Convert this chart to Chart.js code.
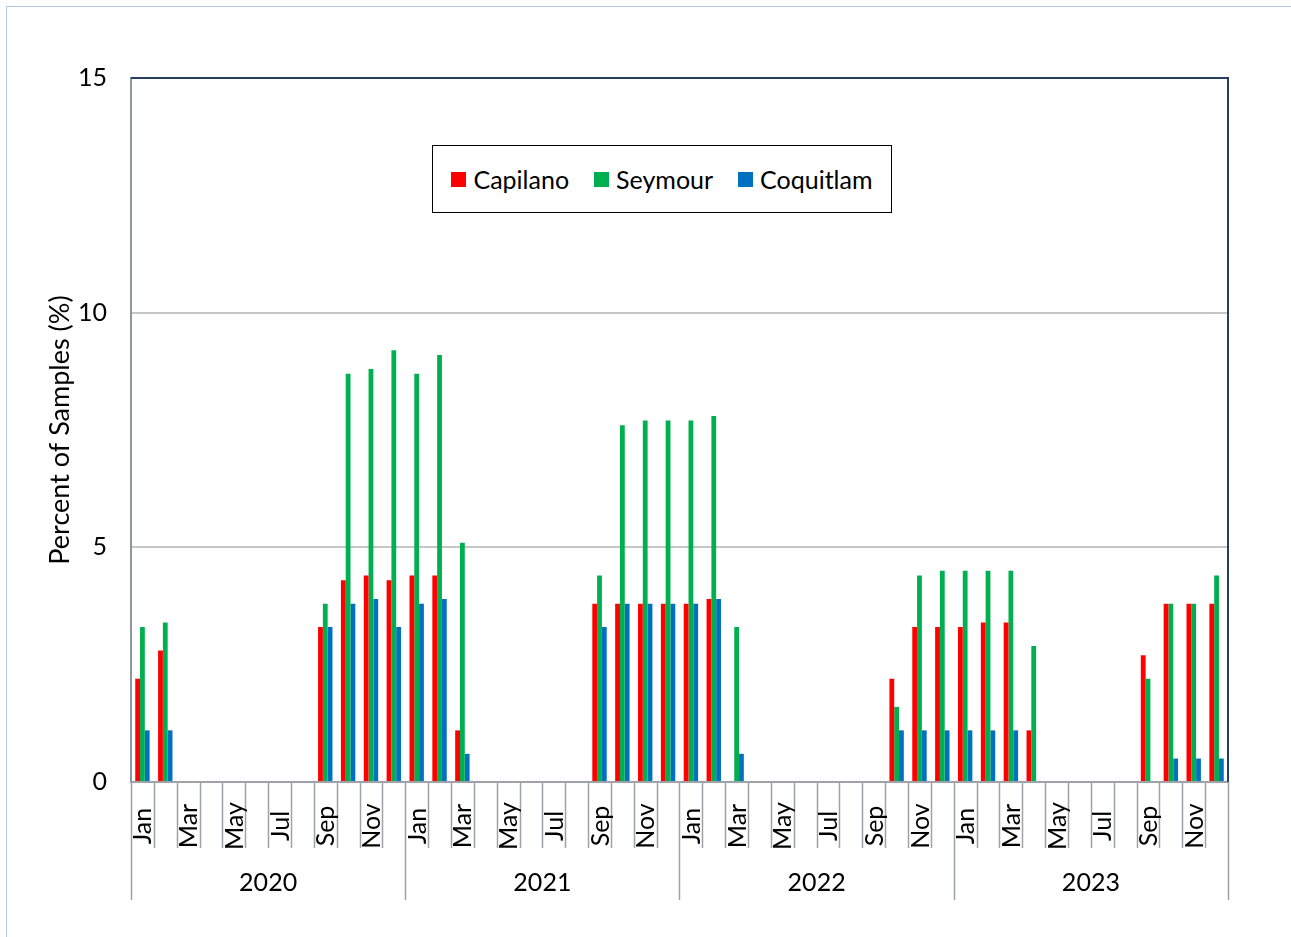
<!DOCTYPE html>
<html>
<head>
<meta charset="utf-8">
<title>Percent of Samples</title>
<script src="https://cdn.jsdelivr.net/npm/chart.js"></script>
<style>
    html, body {
        margin: 0;
        height: 100%;
        overflow: hidden;
        background: #fff;
    }
    #frame {
        position: absolute;
        left: 6px;
        top: 6px;
        width: 1400px;
        height: 1000px;
        border: 1px solid #b4c6e7;
    }
    #wrap {
        position: absolute;
        left: 0;
        top: 0;
        width: 1291px;
        height: 937px;
    }
    #legend {
        position: absolute;
        left: 432px;
        top: 145px;
        width: 458px;
        height: 66px;
        border: 1.5px solid #000;
        background: #fff;
        display: flex;
        align-items: center;
        justify-content: center;
        gap: 25px;
        font-family: Lato, sans-serif;
        font-size: 25px;
        color: #000;
    }
    #legend .item {
        display: flex;
        align-items: center;
        gap: 7px;
    }
    #legend .box {
        width: 15px;
        height: 15px;
    }
</style>
</head>
<body>
<div id="frame"></div>
<div id="wrap">
    <canvas id="myChart"></canvas>
    <div id="legend"></div>
</div>
<script>
    // categories
    const years = ['2020', '2021', '2022', '2023'];
    const months = ['Jan', 'Feb', 'Mar', 'Apr', 'May', 'Jun', 'Jul', 'Aug', 'Sep', 'Oct', 'Nov', 'Dec'];

    // series, Jan 2020 .. Dec 2023
    const capilano = [
        2.2, 2.8, 0, 0, 0, 0, 0, 0, 3.3, 4.3, 4.4, 4.3,
        4.4, 4.4, 1.1, 0, 0, 0, 0, 0, 3.8, 3.8, 3.8, 3.8,
        3.8, 3.9, 0, 0, 0, 0, 0, 0, 0, 2.2, 3.3, 3.3,
        3.3, 3.4, 3.4, 1.1, 0, 0, 0, 0, 2.7, 3.8, 3.8, 3.8
    ];
    const seymour = [
        3.3, 3.4, 0, 0, 0, 0, 0, 0, 3.8, 8.7, 8.8, 9.2,
        8.7, 9.1, 5.1, 0, 0, 0, 0, 0, 4.4, 7.6, 7.7, 7.7,
        7.7, 7.8, 3.3, 0, 0, 0, 0, 0, 0, 1.6, 4.4, 4.5,
        4.5, 4.5, 4.5, 2.9, 0, 0, 0, 0, 2.2, 3.8, 3.8, 4.4
    ];
    const coquitlam = [
        1.1, 1.1, 0, 0, 0, 0, 0, 0, 3.3, 3.8, 3.9, 3.3,
        3.8, 3.9, 0.6, 0, 0, 0, 0, 0, 3.3, 3.8, 3.8, 3.8,
        3.8, 3.9, 0.6, 0, 0, 0, 0, 0, 0, 1.1, 1.1, 1.1,
        1.1, 1.1, 1.1, 0, 0, 0, 0, 0, 0, 0.5, 0.5, 0.5
    ];
    const seriesNames = ['Capilano', 'Seymour', 'Coquitlam'];
    const seriesColors = ['#ff0000', '#00b050', '#0070c0'];

    const yMin = 0;
    const yMax = 15;
    const yStep = 5;

    const labels = [];
    years.forEach(function (y) {
        months.forEach(function (m) { labels.push(m); });
    });

    const FONT = 'Lato';
    const axisGray = '#9ea3aa';

    // legend as html
    const legendEl = document.getElementById('legend');
    seriesNames.forEach(function (name, i) {
        const item = document.createElement('div');
        item.className = 'item';
        const box = document.createElement('span');
        box.className = 'box';
        box.style.background = seriesColors[i];
        const txt = document.createElement('span');
        txt.textContent = name;
        item.appendChild(box);
        item.appendChild(txt);
        legendEl.appendChild(item);
    });

    // navy top/right edges + the two-level month / year axis under the plot
    const plotFrame = {
        id: 'plotFrame',
        afterDraw(chart) {
            const ctx = chart.ctx;
            const a = chart.chartArea;
            const xs = chart.scales.x;
            const half = (xs.getPixelForValue(1) - xs.getPixelForValue(0)) / 2;
            ctx.save();

            // separators: month ticks, longer at year boundaries
            ctx.strokeStyle = axisGray;
            ctx.lineWidth = 1.5;
            for (let i = 0; i <= labels.length; i++) {
                const px = Math.round(xs.getPixelForValue(i) - half) + 0.5;
                const len = (i % 12 === 0) ? 118 : 66;
                ctx.beginPath();
                ctx.moveTo(px, a.bottom);
                ctx.lineTo(px, a.bottom + len);
                ctx.stroke();
            }

            // month names, every other month, rotated
            ctx.fillStyle = '#000';
            ctx.font = '25px ' + FONT;
            ctx.textAlign = 'center';
            ctx.textBaseline = 'middle';
            for (let i = 0; i < labels.length; i += 2) {
                ctx.save();
                ctx.translate(xs.getPixelForValue(i) + 1, a.bottom + 44);
                ctx.rotate(-Math.PI / 2);
                ctx.fillText(labels[i], 0, 0);
                ctx.restore();
            }

            // years
            ctx.textAlign = 'center';
            years.forEach(function (y, j) {
                const cx = (xs.getPixelForValue(j * 12) + xs.getPixelForValue(j * 12 + 11)) / 2;
                ctx.fillText(y, cx, a.bottom + 101);
            });

            // plot frame
            ctx.strokeStyle = '#243f60';
            ctx.lineWidth = 2;
            ctx.beginPath();
            ctx.moveTo(a.left, a.top);
            ctx.lineTo(a.right, a.top);
            ctx.lineTo(a.right, a.bottom);
            ctx.stroke();
            ctx.restore();
        }
    };

    const seriesData = [capilano, seymour, coquitlam];

    const ctx = document.getElementById('myChart').getContext('2d');
    const myChart = new Chart(ctx, {
        type: 'bar',
        data: {
            labels: labels,
            datasets: seriesNames.map(function (name, i) {
                return {
                    label: name,
                    data: seriesData[i],
                    backgroundColor: seriesColors[i],
                    borderWidth: 0,
                    barPercentage: 1.0,
                    categoryPercentage: 0.63
                };
            })
        },
        options: {
            responsive: true,
            maintainAspectRatio: false,
            animation: false,
            layout: {
                padding: { left: 44, right: 63, top: 78, bottom: 0 }
            },
            plugins: {
                legend: { display: false },
                tooltip: { enabled: false }
            },
            scales: {
                x: {
                    type: 'category',
                    offset: true,
                    grid: { display: false, drawTicks: false },
                    border: { display: true, color: axisGray, width: 2 },
                    ticks: { display: false },
                    afterFit: function (scale) { scale.height = 155; }
                },
                y: {
                    min: yMin,
                    max: yMax,
                    ticks: {
                        stepSize: yStep,
                        padding: 24,
                        color: '#000',
                        font: { family: FONT, size: 25 }
                    },
                    grid: {
                        color: '#c6c6c6',
                        lineWidth: 2,
                        drawTicks: false
                    },
                    border: { display: true, color: '#8e96a0', width: 2 },
                    title: {
                        display: true,
                        text: 'Percent of Samples (%)',
                        color: '#000',
                        font: { family: FONT, size: 27 },
                        padding: { top: 0, bottom: 0 }
                    },
                    afterFit: function (scale) { scale.width = 87; }
                }
            }
        },
        plugins: [plotFrame]
    });
</script>
</body>
</html>
